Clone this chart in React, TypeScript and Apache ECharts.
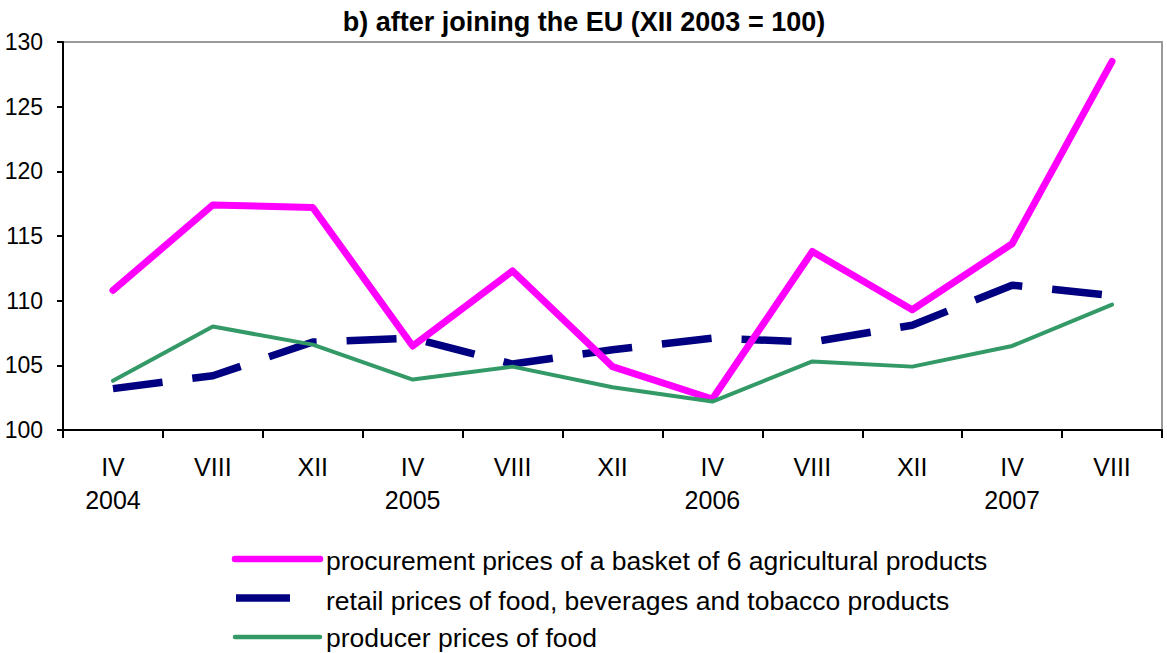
import React, { useEffect, useRef } from "react";
import * as echarts from "echarts";

const months = ["IV", "VIII", "XII", "IV", "VIII", "XII", "IV", "VIII", "XII", "IV", "VIII"];
const years = ["2004", "", "", "2005", "", "", "2006", "", "", "2007", ""];
const procurement = [110.8, 117.4, 117.2, 106.5, 112.3, 104.9, 102.4, 113.8, 109.3, 114.4, 128.5];
const retail = [103.2, 104.2, 106.8, 107.1, 105.1, 106.2, 107.1, 106.8, 108.1, 111.2, 110.4];
const producer = [103.8, 108.0, 106.6, 103.9, 104.9, 103.3, 102.2, 105.3, 104.9, 106.5, 109.7];
const seriesNames = [
  "procurement prices of a basket of 6 agricultural products",
  "retail prices of food, beverages and tobacco products",
  "producer prices of food",
];
const title = "b) after joining the EU (XII 2003 = 100)";

const FONT = "'Liberation Sans', Arial, sans-serif";

export default function App() {
  const ref = useRef<HTMLDivElement>(null);
  useEffect(() => {
    if (!ref.current) return;
    const chart = echarts.init(ref.current, null, { renderer: "svg" });
    const cats = months.map((m, i) => (years[i] ? m + "\n" + years[i] : m));
    chart.setOption({
      animation: false,
      backgroundColor: "#fff",
      title: {
        text: title,
        left: 579,
        top: 3,
        textAlign: "center",
        textStyle: { fontFamily: FONT, fontSize: 27, fontWeight: "bold", color: "#000" },
      },
      grid: {
        left: 63,
        right: 5,
        top: 42,
        bottom: 223,
        show: true,
        borderColor: "#999",
        borderWidth: 2,
      },
      xAxis: {
        type: "category",
        data: cats,
        boundaryGap: true,
        axisLine: { lineStyle: { color: "#000", width: 2 } },
        axisTick: { show: true, alignWithLabel: false, length: 8, lineStyle: { color: "#000", width: 2 } },
        axisLabel: {
          interval: 0,
          fontFamily: FONT,
          fontSize: 25,
          color: "#000",
          lineHeight: 33,
          margin: 20,
        },
        splitLine: { show: false },
      },
      yAxis: {
        type: "value",
        min: 100,
        max: 130,
        interval: 5,
        axisLine: { show: true, lineStyle: { color: "#000", width: 2 } },
        axisTick: { show: true, length: 6, lineStyle: { color: "#000", width: 2 } },
        axisLabel: { fontFamily: FONT, fontSize: 23, color: "#000", margin: 20 },
        splitLine: { show: false },
      },
      series: [
        {
          name: seriesNames[0],
          type: "line",
          data: procurement,
          symbol: "none",
          lineStyle: { color: "#ff00ff", width: 7, cap: "round", join: "round" },
          z: 3,
        },
        {
          name: seriesNames[1],
          type: "line",
          data: retail,
          symbol: "none",
          lineStyle: { color: "#000080", width: 7.5, type: [50, 30], cap: "butt" },
          z: 2,
        },
        {
          name: seriesNames[2],
          type: "line",
          data: producer,
          symbol: "none",
          lineStyle: { color: "#339966", width: 4, cap: "round" },
          z: 4,
        },
      ],
      graphic: [
        { type: "line", shape: { x1: 235, y1: 559, x2: 320, y2: 559 }, style: { stroke: "#ff00ff", lineWidth: 6.5, lineCap: "round" } },
        { type: "text", x: 326, y: 561, style: { text: seriesNames[0], font: "26.5px " + FONT, fill: "#000", verticalAlign: "middle" } },
        { type: "line", shape: { x1: 236, y1: 598, x2: 290, y2: 598 }, style: { stroke: "#000080", lineWidth: 7.5 } },
        { type: "text", x: 326, y: 601, style: { text: seriesNames[1], font: "26.5px " + FONT, fill: "#000", verticalAlign: "middle" } },
        { type: "line", shape: { x1: 235, y1: 637, x2: 320, y2: 637 }, style: { stroke: "#339966", lineWidth: 4.5, lineCap: "round" } },
        { type: "text", x: 326, y: 638, style: { text: seriesNames[2], font: "26.5px " + FONT, fill: "#000", verticalAlign: "middle" } },
      ],
    });
    return () => chart.dispose();
  }, []);
  return <div ref={ref} style={{ width: 1167, height: 653, position: "absolute", left: 0, top: 0 }} />;
}
